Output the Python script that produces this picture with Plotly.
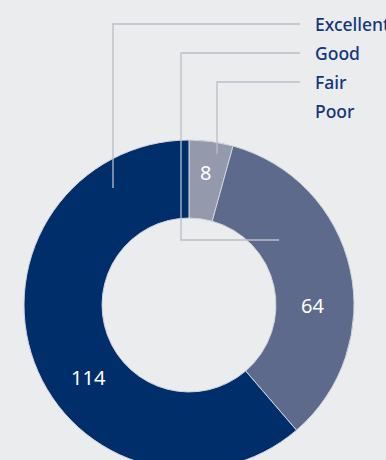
import math
import plotly.graph_objects as go

# Ratings and their counts (Poor has no responses)
categories = ["Excellent", "Good", "Fair", "Poor"]
counts = [114, 64, 8, 0]
slice_colors = ["#002E6B", "#5E6A8B", "#9499AC", "#C3C7D2"]

# Figure geometry (pixels); the ring runs past the bottom edge of the view
W, H = 386, 480
CX, CY, R = 189, 305, 165
HOLE = 0.527
BG = "#EBECEE"
TEXT_NAVY = "#14367A"
LINE_GREY = "#B9BDC7"


def px(x):
    return x / W


def py(y):
    return 1 - y / H


# Slices run clockwise from 12 o'clock: Poor, Fair, Good, Excellent
fig = go.Figure(
    go.Pie(
        labels=categories[::-1],
        values=counts[::-1],
        hole=HOLE,
        sort=False,
        direction="clockwise",
        rotation=0,
        textinfo="none",
        showlegend=False,
        hoverinfo="label+value",
        marker=dict(colors=slice_colors[::-1], line=dict(color="#D0D4DC", width=1)),
        domain=dict(x=[px(CX - R), px(CX + R)], y=[py(CY + R), py(CY - R)]),
    )
)

# Value labels inside the ring: (clockwise angle from 12 o'clock, radius)
value_label_pos = {"Excellent": (234, 124), "Good": (90, 123), "Fair": (7, 133)}
annotations = []
for cat, val in zip(categories, counts):
    if cat not in value_label_pos:
        continue
    ang, rad = value_label_pos[cat]
    x = CX + rad * math.sin(math.radians(ang))
    y = CY - rad * math.cos(math.radians(ang))
    annotations.append(dict(
        x=px(x), y=py(y), xref="paper", yref="paper", text=str(val),
        showarrow=False, xanchor="center", yanchor="middle",
        font=dict(family="Noto Sans", size=20, color="white"),
    ))

# Category labels on the right, stacked top to bottom
label_x = 313
label_y = [24, 53, 82, 111]
for cat, y in zip(categories, label_y):
    annotations.append(dict(
        x=px(label_x), y=py(y), xref="paper", yref="paper", text=cat,
        showarrow=False, xanchor="left", yanchor="middle",
        font=dict(family="Noto Sans", size=17.5, color=TEXT_NAVY, weight=500),
    ))

# Leader lines from each label into its slice
leaders = {
    "Excellent": [(300, 24), (113, 24), (113, 188)],
    "Good": [(300, 53), (181, 53), (181, 240), (279, 240)],
    "Fair": [(300, 82), (217, 82), (217, 154)],
}
shapes = []
for cat, pts in leaders.items():
    path = "M " + " L ".join(f"{px(x)},{py(y)}" for x, y in pts)
    shapes.append(dict(
        type="path", path=path, xref="paper", yref="paper",
        line=dict(color=LINE_GREY, width=1.3), layer="above",
    ))

fig.update_layout(
    width=W, height=H,
    margin=dict(l=0, r=0, t=0, b=0),
    paper_bgcolor=BG, plot_bgcolor=BG,
    annotations=annotations, shapes=shapes,
)

fig.write_html(
    "out.html",
    post_script="document.documentElement.style.overflow='hidden';"
                "document.body.style.overflow='hidden';"
                "document.body.style.margin='0';"
                "document.body.style.background='" + BG + "';",
)
